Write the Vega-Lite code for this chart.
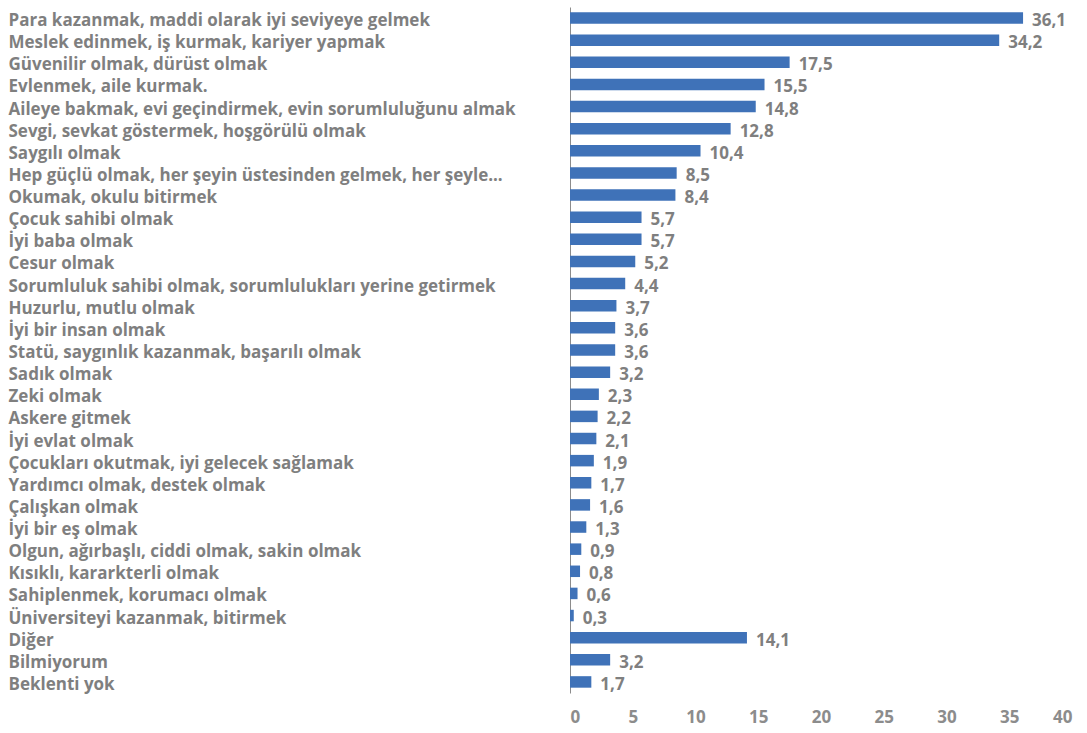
{
  "$schema": "https://vega.github.io/schema/vega-lite/v6.json",
  "autosize": {"type": "none"},
  "padding": {"left": 570, "top": 7, "right": 15, "bottom": 40},
  "width": 502,
  "height": 686,
  "background": "white",
  "config": {
    "view": {"stroke": null},
    "locale": {"number": {"decimal": ",", "thousands": ".", "grouping": [3], "currency": ["", ""]}},
    "font": "Open Sans"
  },
  "data": {"values": [
    {"kategori": "Para kazanmak, maddi olarak iyi seviyeye gelmek", "yuzde": 36.1},
    {"kategori": "Meslek edinmek, iş kurmak, kariyer yapmak", "yuzde": 34.2},
    {"kategori": "Güvenilir olmak, dürüst olmak", "yuzde": 17.5},
    {"kategori": "Evlenmek, aile kurmak.", "yuzde": 15.5},
    {"kategori": "Aileye bakmak, evi geçindirmek, evin sorumluluğunu almak", "yuzde": 14.8},
    {"kategori": "Sevgi, sevkat göstermek, hoşgörülü olmak", "yuzde": 12.8},
    {"kategori": "Saygılı olmak", "yuzde": 10.4},
    {"kategori": "Hep güçlü olmak, her şeyin üstesinden gelmek, her şeyle...", "yuzde": 8.5},
    {"kategori": "Okumak, okulu bitirmek", "yuzde": 8.4},
    {"kategori": "Çocuk sahibi olmak", "yuzde": 5.7},
    {"kategori": "İyi baba olmak", "yuzde": 5.7},
    {"kategori": "Cesur olmak", "yuzde": 5.2},
    {"kategori": "Sorumluluk sahibi olmak, sorumlulukları yerine getirmek", "yuzde": 4.4},
    {"kategori": "Huzurlu, mutlu olmak", "yuzde": 3.7},
    {"kategori": "İyi bir insan olmak", "yuzde": 3.6},
    {"kategori": "Statü, saygınlık kazanmak, başarılı olmak", "yuzde": 3.6},
    {"kategori": "Sadık olmak", "yuzde": 3.2},
    {"kategori": "Zeki olmak", "yuzde": 2.3},
    {"kategori": "Askere gitmek", "yuzde": 2.2},
    {"kategori": "İyi evlat olmak", "yuzde": 2.1},
    {"kategori": "Çocukları okutmak, iyi gelecek sağlamak", "yuzde": 1.9},
    {"kategori": "Yardımcı olmak, destek olmak", "yuzde": 1.7},
    {"kategori": "Çalışkan olmak", "yuzde": 1.6},
    {"kategori": "İyi bir eş olmak", "yuzde": 1.3},
    {"kategori": "Olgun, ağırbaşlı, ciddi olmak, sakin olmak", "yuzde": 0.9},
    {"kategori": "Kısıklı, kararkterli olmak", "yuzde": 0.8},
    {"kategori": "Sahiplenmek, korumacı olmak", "yuzde": 0.6},
    {"kategori": "Üniversiteyi kazanmak, bitirmek", "yuzde": 0.3},
    {"kategori": "Diğer", "yuzde": 14.1},
    {"kategori": "Bilmiyorum", "yuzde": 3.2},
    {"kategori": "Beklenti yok", "yuzde": 1.7}
  ]},
  "encoding": {
    "y": {
      "field": "kategori", "type": "nominal", "sort": null,
      "scale": {"paddingInner": 0.48, "paddingOuter": 0.24},
      "axis": {
        "title": null, "ticks": false, "domain": true, "domainColor": "#8c8c8c", "domainWidth": 1,
        "labelAlign": "left", "labelPadding": 562, "labelLimit": 600, "labelOffset": 3,
        "labelFont": "Open Sans", "labelFontSize": 17, "labelFontWeight": "bold", "labelColor": "#7f7f7f"
      }
    }
  },
  "layer": [
    {
      "mark": {"type": "bar", "color": "#3f72b8"},
      "encoding": {
        "x": {
          "field": "yuzde", "type": "quantitative",
          "scale": {"domain": [0, 40], "nice": false},
          "axis": {
            "title": null, "values": [0, 5, 10, 15, 20, 25, 30, 35, 40], "format": "d",
            "domain": false, "ticks": false, "grid": false, "labelPadding": 16,
            "labelFont": "Open Sans", "labelFontSize": 17, "labelFontWeight": "bold", "labelColor": "#8c8c8c"
          }
        }
      }
    },
    {
      "mark": {"type": "text", "align": "left", "dx": 9, "dy": 3, "font": "Open Sans", "fontSize": 17, "fontWeight": "bold", "color": "#7f7f7f"},
      "encoding": {
        "x": {"field": "yuzde", "type": "quantitative"},
        "text": {"field": "yuzde", "type": "quantitative", "format": ".1f"}
      }
    }
  ]
}
